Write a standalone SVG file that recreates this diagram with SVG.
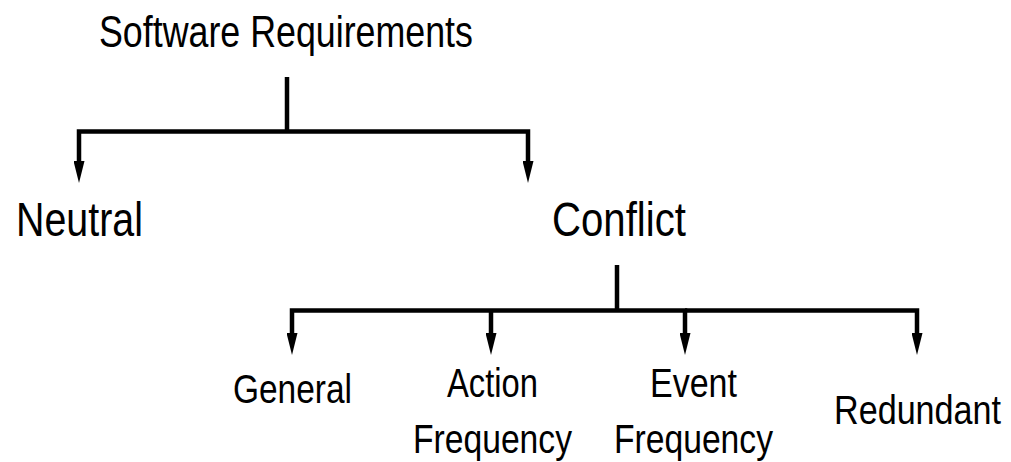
<svg xmlns="http://www.w3.org/2000/svg" width="1011" height="462" viewBox="0 0 1011 462">
  <style>
    .lbl { font-family: "Liberation Sans", Arial, sans-serif; fill: #000; }
    .big { font-size: 49px; }
    .top { font-size: 44px; }
    .small { font-size: 41px; }
    .wire { fill: none; stroke: #000; stroke-width: 4.5; stroke-linejoin: miter; stroke-linecap: butt; }
  </style>
  <defs>
    <marker id="arrow" markerUnits="userSpaceOnUse" markerWidth="22" markerHeight="11" refX="4" refY="5.5" orient="auto">
      <path d="M0,0 L22,5.5 L0,11 Z" fill="#000"/>
    </marker>
  </defs>
  <rect width="1011" height="462" fill="#fff"/>

  <!-- tree connectors -->
  <g id="connectors">
    <path class="wire" d="M287,77 V131.5"/>
    <path class="wire" d="M287,131.5 H79 V165" marker-end="url(#arrow)"/>
    <path class="wire" d="M287,131.5 H528 V165" marker-end="url(#arrow)"/>
    <path class="wire" d="M617,265 V310.5"/>
    <path class="wire" d="M617,310.5 H292 V337" marker-end="url(#arrow)"/>
    <path class="wire" d="M491,310.5 V337" marker-end="url(#arrow)"/>
    <path class="wire" d="M617,310.5 H685 V337" marker-end="url(#arrow)"/>
    <path class="wire" d="M685,310.5 H917 V337" marker-end="url(#arrow)"/>
  </g>

  <!-- labels: condensed sans, drawn by squeezing the regular face horizontally -->
  <g id="software-requirements">
    <text class="lbl top" transform="translate(99,47) scale(0.8136,1)">Software Requirements</text>
  </g>
  <g id="neutral">
    <text class="lbl big" transform="translate(16,236) scale(0.804,1)">Neutral</text>
  </g>
  <g id="conflict">
    <text class="lbl big" transform="translate(552,236) scale(0.82,1)">Conflict</text>
  </g>
  <g id="general">
    <text class="lbl small" transform="translate(233,403) scale(0.816,1)">General</text>
  </g>
  <g id="action-frequency">
    <text class="lbl small" transform="translate(447,397) scale(0.799,1)">Action</text>
    <text class="lbl small" transform="translate(413,453) scale(0.821,1)">Frequency</text>
  </g>
  <g id="event-frequency">
    <text class="lbl small" transform="translate(650,397) scale(0.83,1)">Event</text>
    <text class="lbl small" transform="translate(614,453) scale(0.821,1)">Frequency</text>
  </g>
  <g id="redundant">
    <text class="lbl small" transform="translate(834,424) scale(0.833,1)">Redundant</text>
  </g>
</svg>
